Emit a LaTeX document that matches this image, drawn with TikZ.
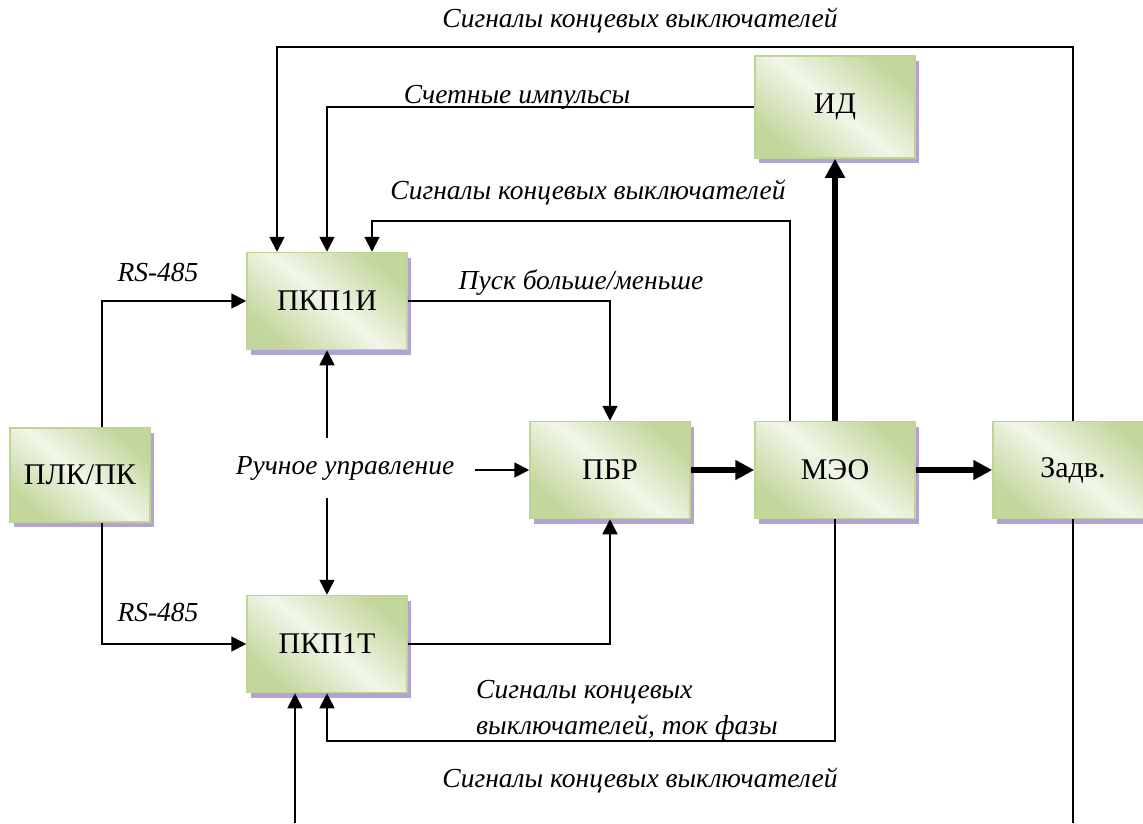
\documentclass[tikz,border=0pt]{standalone}
\usepackage{fontspec}
\setmainfont{Liberation Serif}
\usetikzlibrary{arrows.meta,shadows}

\definecolor{boxlight}{HTML}{F1F6E9}
\definecolor{boxdark}{HTML}{C3D69B}
\definecolor{boxedge}{HTML}{C0D496}
\definecolor{boxshade}{HTML}{B3A2D6}

\begin{document}
\begin{tikzpicture}[
    x=1pt, y=-1pt,                       % pixel-like coordinates
    >={Triangle[length=15pt,width=15pt]}, % arrow tip style
    line width=1.8pt,
    block/.style={draw=boxedge, line width=1.5pt,
        top color=boxdark, bottom color=boxdark, middle color=boxlight, shading angle=-40,
        minimum width=160pt, minimum height=97pt,
        font=\fontsize{30}{34}\selectfont,
        drop shadow={shadow xshift=4pt, shadow yshift=-5pt, fill=boxshade, opacity=1}},
    sig/.style={font=\fontsize{27.5}{36}\selectfont\itshape},
    bus/.style={line width=6pt, -{Triangle[length=19pt,width=19pt]}}]
    \clip (0,0) rectangle (1143,823);

    % Blocks
    \node[block, minimum width=140pt, minimum height=94pt] (plc) at (80,475) {ПЛК/ПК};
    \node[block] (pkpi) at (327,301) {ПКП1И};
    \node[block] (pkpt) at (327,644) {ПКП1Т};
    \node[block] (pbr) at (610,470) {ПБР};
    \node[block] (meo) at (835,470) {МЭО};
    \node[block] (zadv) at (1073,470) {Задв.};
    \node[block, minimum height=102pt] (id) at (835,107) {ИД};

    % Signal texts
    \node[sig] (sigtop) at (640,20) {Сигналы концевых выключателей};
    \node[sig] (count) at (517,97) {Счетные импульсы};
    \node[sig] (sigmid) at (588,192) {Сигналы концевых выключателей};
    \node[sig] (rsi) at (158,272) {RS-485};
    \node[sig] (rst) at (158,612) {RS-485};
    \node[sig] (pusk) at (581,283) {Пуск больше/меньше};
    \node[sig] (manual) at (345,468) {Ручное управление};
    \node[sig, align=left, anchor=west] (sigphase) at (472,710) {Сигналы концевых\\выключателей, ток фазы};
    \node[sig] (sigbot) at (640,780) {Сигналы концевых выключателей};

    % Free ends
    \coordinate (mup) at (327,438);
    \coordinate (mdown) at (327,498);
    \coordinate (mright) at (475,470);
    \coordinate (zbot) at (1073,823);
    \coordinate (pbot) at (295,823);

    % Connectors
    \draw[->] (zadv.north) -- ++(0,-374) -| ([xshift=-50pt]pkpi.north);
    \draw[->] (id.west) -| (pkpi.north);
    \draw[->] ([xshift=-45pt]meo.north) -- ++(0,-200) -| ([xshift=45pt]pkpi.north);
    \draw[bus] (meo.north) -- (id.south);
    \draw[->] ([xshift=22pt]plc.north) |- (pkpi.west);
    \draw[->] ([xshift=22pt]plc.south) |- (pkpt.west);
    \draw[->] (pkpi.east) -| (pbr.north);
    \draw[->] (pkpt.east) -| (pbr.south);
    \draw[->] (mup) -- (pkpi.south);
    \draw[->] (mdown) -- (pkpt.north);
    \draw[->] (mright) -- (pbr.west);
    \draw[bus] (pbr.east) -- (meo.west);
    \draw[bus] (meo.east) -- (zadv.west);
    \draw[->] (meo.south) -- ++(0,222) -| (pkpt.south);
    \draw (zadv.south) -- (zbot);
    \draw[->] (pbot) -- (pbot |- pkpt.south);
\end{tikzpicture}
\end{document}
